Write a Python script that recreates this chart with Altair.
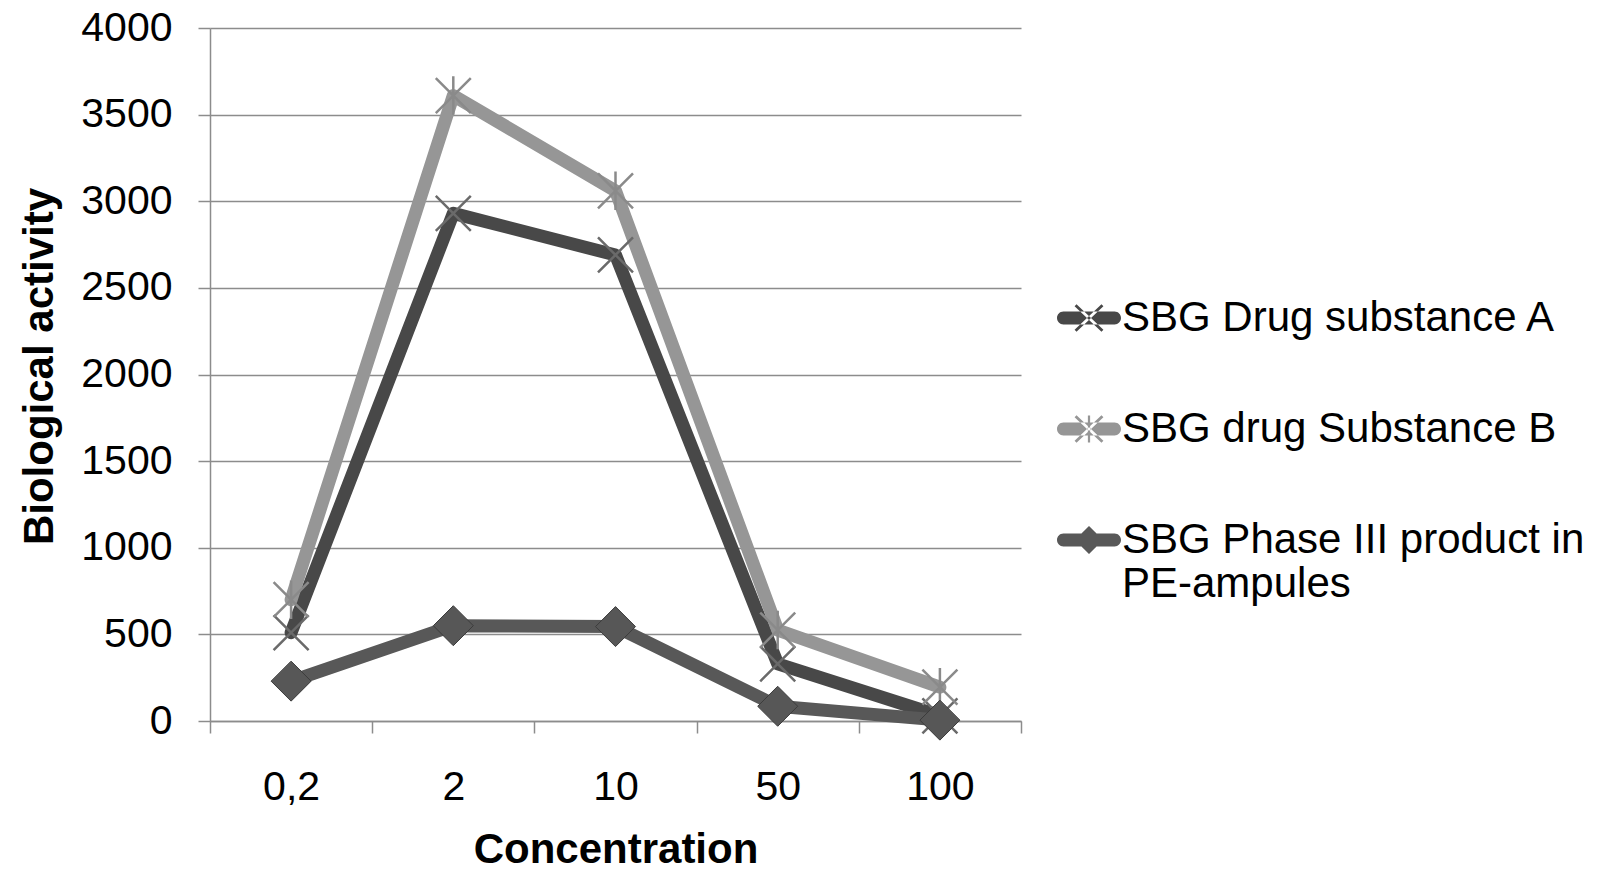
import altair as alt
import pandas as pd

concentrations = ["0,2", "2", "10", "50", "100"]
series_names = [
    "SBG Drug substance A",
    "SBG drug Substance B",
    "SBG Phase III product in PE-ampules",
]
values_a = [510, 2930, 2690, 330, 30]
values_b = [700, 3610, 3060, 525, 195]
values_c = [230, 550, 545, 85, 5]
y_ticks = [0, 500, 1000, 1500, 2000, 2500, 3000, 3500, 4000]

line_colors = ["#484848", "#969696", "#585858"]
marker_colors = ["#6a6a6a", "#8a8a8a", "#444444"]

rows = []
for name, vals in zip(series_names, [values_a, values_b, values_c]):
    for c, v in zip(concentrations, vals):
        rows.append({"conc": c, "series": name, "value": v})
df = pd.DataFrame(rows)

FONT = "Liberation Sans"

x_enc = alt.X(
    "conc:N",
    sort=concentrations,
    scale=alt.Scale(type="band", paddingInner=0, paddingOuter=0),
    axis=alt.Axis(
        title="Concentration",
        titleFont=FONT,
        titleFontSize=42,
        titleFontWeight="bold",
        titleColor="black",
        titleBaseline="alphabetic",
        titleY=141,
        labelFont=FONT,
        labelFontSize=41,
        labelColor="black",
        labelAngle=0,
        labelBaseline="alphabetic",
        labelPadding=66,
        tickBand="extent",
        tickSize=12,
        tickColor="#8c8c8c",
        tickWidth=1.5,
        domainColor="#8c8c8c",
        domainWidth=1.5,
        grid=False,
    ),
)
y_enc = alt.Y(
    "value:Q",
    scale=alt.Scale(domain=[0, 4000], nice=False),
    axis=alt.Axis(
        values=y_ticks,
        format="d",
        title="Biological activity",
        titleFont=FONT,
        titleFontSize=42,
        titleFontWeight="bold",
        titleColor="black",
        titleAngle=-90,
        titleBaseline="alphabetic",
        titleAlign="center",
        titleX=-158,
        titleY=338,
        labelFont=FONT,
        labelFontSize=41,
        labelColor="black",
        labelPadding=26,
        tickSize=12,
        tickColor="#8c8c8c",
        tickWidth=1.5,
        domainColor="#8c8c8c",
        domainWidth=1.5,
        grid=True,
        gridColor="#8c8c8c",
        gridWidth=1.5,
    ),
)

base = alt.Chart(df)

# line colours: data-driven domain (sorted in series order), no legend
lines = base.mark_line(strokeWidth=13, strokeJoin="round", strokeCap="round").encode(
    x=x_enc,
    y=y_enc,
    stroke=alt.Stroke("series:N", sort=series_names, scale=alt.Scale(range=line_colors), legend=None),
    detail="series:N",
)

x_path = "M-1,-1L1,1M-1,1L1,-1"
ast_path = "M-1,-1L1,1M-1,1L1,-1M0,-1.1L0,1.1"

mk_a = base.transform_filter(alt.datum.series == series_names[0]).mark_point(
    shape=x_path, size=1225, filled=False, stroke=marker_colors[0], strokeWidth=2.5, opacity=1
).encode(x=x_enc, y=y_enc)
mk_b = base.transform_filter(alt.datum.series == series_names[1]).mark_point(
    shape=ast_path, size=1225, filled=False, stroke=marker_colors[1], strokeWidth=2.5, opacity=1
).encode(x=x_enc, y=y_enc)
mk_c = base.transform_filter(alt.datum.series == series_names[2]).mark_point(
    shape="diamond", size=1600, filled=True, fill="#575757", stroke="#3c3c3c", strokeWidth=1, opacity=1
).encode(x=x_enc, y=y_enc)

# legend glyphs: rounded bar + marker, all as filled outlines
bar = "M-0.8,-0.2L0.8,-0.2A0.2,0.2 0 0 1 0.8,0.2L-0.8,0.2A0.2,0.2 0 0 1 -0.8,-0.2Z"
xarms = ("M-0.45,-0.37L0.39,0.43L0.45,0.37L-0.39,-0.43Z"
         "M-0.39,0.43L0.45,-0.37L0.39,-0.43L-0.45,0.37Z")
vbar = "M-0.035,-0.42L0.035,-0.42L0.035,0.42L-0.035,0.42Z"
leg_paths = [
    bar + xarms,
    bar + xarms + vbar,
    bar + "M0,-0.44L0.44,0L0,0.44L-0.44,0Z",
]

leg = alt.Legend(
    title=None,
    orient="none",
    legendX=847,
    legendY=258,
    labelFont=FONT,
    labelFontSize=42,
    labelColor="black",
    labelLimit=800,
    labelOffset=1,
    symbolSize=4096,
    symbolStrokeWidth=0,
    rowPadding=58,
    padding=0,
    labelExpr="datum.label == 'SBG Phase III product in PE-ampules' ? ['SBG Phase III product in', 'PE-ampules'] : datum.label",
)

legend_layer = base.mark_point(filled=True, size=0, opacity=1).encode(
    color=alt.Color("series:N", scale=alt.Scale(domain=series_names, range=line_colors), legend=leg),
    shape=alt.Shape("series:N", scale=alt.Scale(domain=series_names, range=leg_paths), legend=leg),
)

chart = (
    alt.layer(lines, mk_a, mk_b, mk_c, legend_layer)
    .properties(
        width=811,
        height=693,
        autosize="none",
        padding={"left": 210, "top": 28, "right": 587, "bottom": 151},
        background="white",
    )
    .configure_view(stroke=None)
)

chart.save("out.html", embed_options={"renderer": "svg", "actions": False})
